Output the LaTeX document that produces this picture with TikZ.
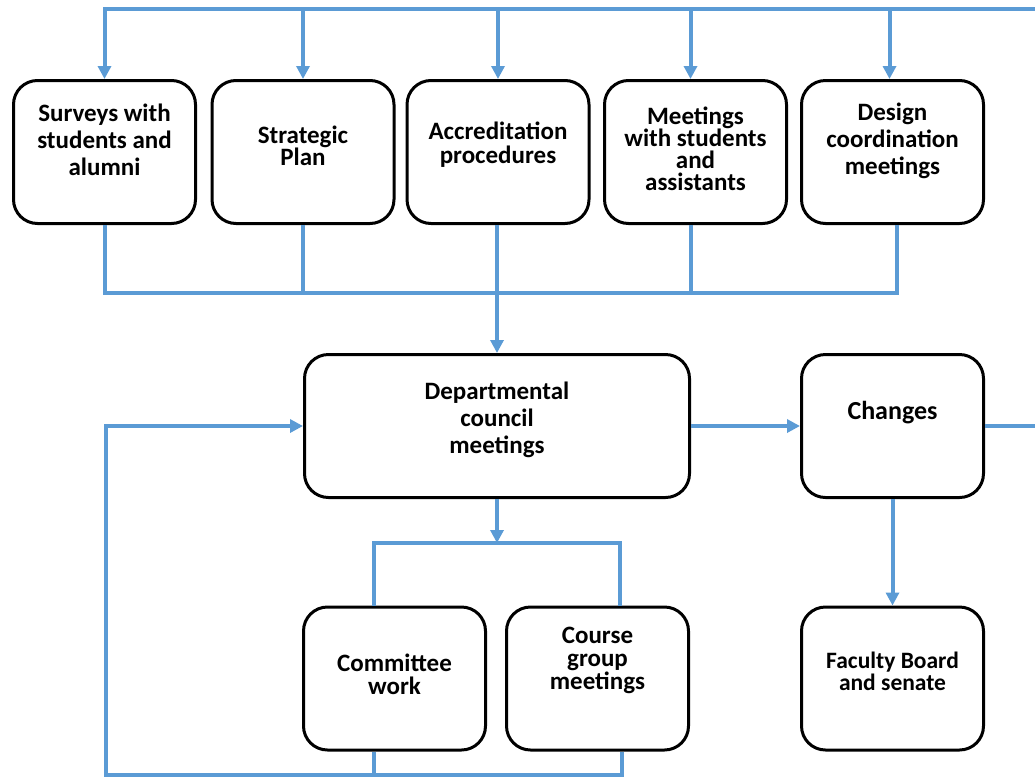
\documentclass[tikz,border=0pt]{standalone}
\usepackage{fontspec}
\setmainfont{Carlito}
\usetikzlibrary{arrows.meta,calc}
\definecolor{lnblue}{RGB}{91,155,213}
\begin{document}
\begin{tikzpicture}[x=1pt,y=-1pt,
  box/.style={draw=black,line width=3pt,rounded corners=24pt,minimum width=182pt,minimum height=143pt,inner sep=0pt},
  txt/.style={align=center,font=\fontsize{25}{27}\selectfont\bfseries,inner sep=0pt},
  tighttxt/.style={align=center,font=\fontsize{25}{22}\selectfont\bfseries,inner sep=0pt},
  conn/.style={draw=lnblue,line width=4pt},
  arr/.style={conn,-{Triangle[length=13pt,width=13pt]}}]
\useasboundingbox (0,0) rectangle (1035,777);

% boxes
\node[box] (b1) at (104.5,152) {};
\node[box] (b2) at (303,152) {};
\node[box] (b3) at (498,152) {};
\node[box] (b4) at (695.5,152) {};
\node[box] (b5) at (892.5,152) {};
\node[box,minimum width=385pt] (dept) at (497,426) {};
\node[box] (ch) at (892.5,426) {};
\node[box] (cw) at (394.5,678.5) {};
\node[box] (cg) at (597.5,678.5) {};
\node[box] (fac) at (892.5,678.5) {};

% texts
\node[txt] (t1) at ($(b1)+(0,-12)$) {Surveys with\\students and\\alumni};
\node[tighttxt] (t2) at ($(b2)+(0,-6)$) {Strategic\\Plan};
\node[tighttxt,font=\fontsize{25}{24}\selectfont\bfseries] (t3) at ($(b3)+(0,-7)$) {Accreditation\\procedures};
\node[tighttxt] (t4) at ($(b4)+(0,-3)$) {Meetings\\with students\\and\\assistants};
\node[txt] (t5) at ($(b5)+(0,-11)$) {Design\\coordination\\meetings};
\node[txt] (tdept) at ($(dept)+(0,-6)$) {Departmental\\council\\meetings};
\node[txt,font=\fontsize{26}{27}\selectfont\bfseries] (tch) at ($(ch)+(0,-13)$) {Changes};
\node[tighttxt,font=\fontsize{25}{23}\selectfont\bfseries] (tcw) at ($(cw)+(0,-4)$) {Committee\\work};
\node[tighttxt,font=\fontsize{25}{23}\selectfont\bfseries] (tcg) at ($(cg)+(0,-18)$) {Course\\group\\meetings};
\node[tighttxt,font=\fontsize{23.5}{22}\selectfont\bfseries] (tfac) at ($(fac)+(0,-7)$) {Faculty Board\\and senate};

% coordinates
\coordinate (topR) at (1040,9);
\coordinate (mb) at (0,293);
\coordinate (split) at (0,543);
\coordinate (fb) at (106,775);
\coordinate (cwTop) at ($(cw.north)+(-21,0)$);
\coordinate (cgTop) at ($(cg.north)+(22,0)$);
\coordinate (cwBot) at ($(cw.south)+(-21,0)$);
\coordinate (cgBot) at ($(cg.south)+(24,0)$);

% top distribution
\draw[arr] (topR) -- (b1.north |- topR) -- (b1.north);
\draw[arr] (b2.north |- topR) -- (b2.north);
\draw[arr] (b3.north |- topR) -- (b3.north);
\draw[arr] ($(b4.north |- topR)+(-5,0)$) -- ($(b4.north)+(-5,0)$);
\draw[arr] ($(b5.north |- topR)+(-3,0)$) -- ($(b5.north)+(-3,0)$);

% merge below top row
\draw[conn] (b1.south) -- (b1.south |- mb) -- ($(b5.south |- mb)+(4,0)$) -- ($(b5.south)+(4,0)$);
\draw[conn] (b2.south) -- (b2.south |- mb);
\draw[conn] ($(b4.south)+(-5,0)$) -- ($(b4.south |- mb)+(-5,0)$);
\draw[arr] (dept.north |- b3.south) -- (dept.north);

% dept to committee / course group
\draw[arr] (dept.south) -- (dept.south |- split);
\draw[conn] (cwTop) |- (cgTop |- split) -- (cgTop);

% feedback loop
\draw[conn] (cwBot) -- (cwBot |- fb);
\draw[arr] (cgBot) -- (cgBot |- fb) -- (fb) -- (fb |- dept.west) -- (dept.west);

% changes
\draw[arr] (dept.east) -- (ch.west);
\draw[conn] (ch.east) -- (ch.east -| topR);
\draw[arr] (ch.south) -- (fac.north);
\end{tikzpicture}
\end{document}
